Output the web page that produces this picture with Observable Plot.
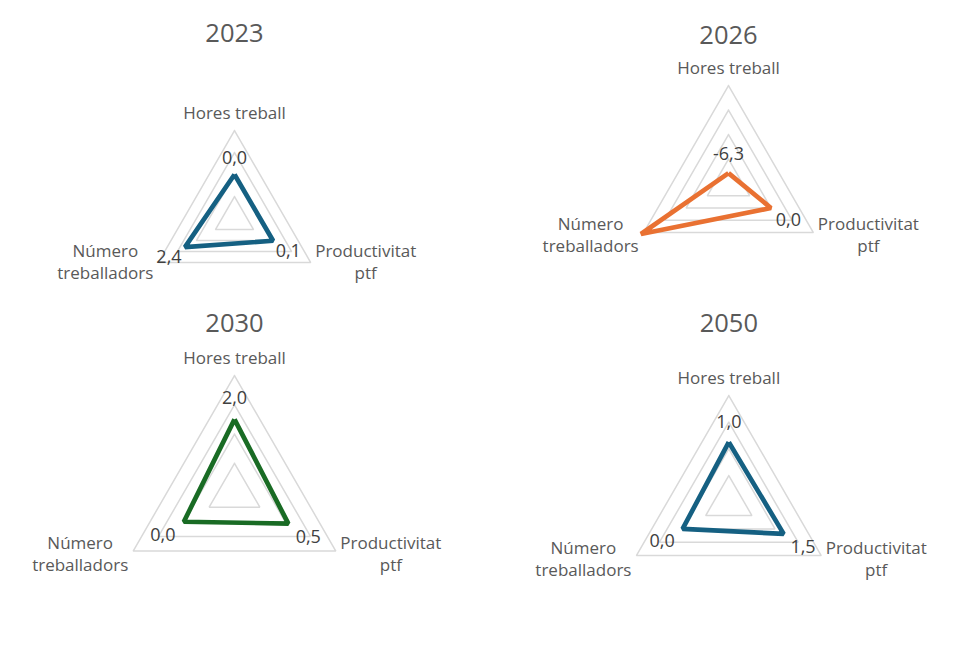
<!DOCTYPE html>
<html>
<head>
<meta charset="utf-8">
<script src="https://cdn.jsdelivr.net/npm/d3@7"></script>
<script src="https://cdn.jsdelivr.net/npm/@observablehq/plot@0.6"></script>
<style>
  html, body { margin: 0; padding: 0; background: #ffffff; }
  #page { position: relative; width: 963px; height: 659px; overflow: hidden; font-family: "Open Sans", sans-serif; }
  .panel { position: absolute; }
  .panel svg { overflow: visible; }
</style>
</head>
<body>
<div id="page"></div>
<script>
// ---- data ----
const years = ["2023", "2026", "2030", "2050"];
const axisLabels = ["Hores treball", "Productivitat\nptf", "Número\ntreballadors"];
const horesTreball = [0.0, -6.3, 2.0, 1.0];
const productivitat = [0.1, 0.0, 0.5, 1.5];
const numeroTreballadors = [2.4, 8.5, 0.0, 0.0];
const radialMin = -8;
const radialMax = 8;
const radialTicks = [-4, 0, 4, 8];
const seriesColors = ["#156082", "#E97132", "#196B24", "#156082"];

// ---- layout (panel boxes, radar centre and radius in px) ----
const layout = [
  {left: 0,   top: 0,   w: 481, h: 300, cx: 234,   cy: 218,   R: 88,    titleY: 33, sideDy: -2, lab: 0.8},
  {left: 481, top: 0,   w: 482, h: 300, cx: 247,   cy: 183,   R: 98,    titleY: 35, sideDy: 1,  lab: 0.92},
  {left: 0,   top: 300, w: 481, h: 359, cx: 234,   cy: 192,   R: 117,   titleY: 23, sideDy: 2,  lab: 1.05},
  {left: 481, top: 300, w: 482, h: 359, cx: 247.3, cy: 201.7, R: 106.7, titleY: 23, sideDy: 2,  lab: 1.02}
];

const locale = d3.formatLocale({decimal: ",", thousands: ".", grouping: [3], currency: ["", "€"], minus: "-"});
const fmt = locale.format(".1f");

const angle = (k) => k * 2 * Math.PI / 3;
const norm = (v) => (v - radialMin) / (radialMax - radialMin);
const px = (k, v) => norm(v) * Math.sin(angle(k));
const py = (k, v) => norm(v) * Math.cos(angle(k));

// label offsets per axis (top, lower right, lower left)
const axisLabelDx = [0, 55, -53];
const valueLabelOffsets = [{dx: 0, dy: -20}, {dx: 19, dy: 13}, {dx: -20, dy: 12.5}];

const page = document.getElementById("page");

years.forEach((year, i) => {
  const L = layout[i];
  const values = [horesTreball[i], productivitat[i], numeroTreballadors[i]];

  const grid = [];
  radialTicks.forEach((t) => {
    [0, 1, 2, 0].forEach((k) => grid.push({tick: t, x: px(k, t), y: py(k, t)}));
  });

  const series = [0, 1, 2, 0].map((k) => ({axis: axisLabels[k], value: values[k], x: px(k, values[k]), y: py(k, values[k])}));

  const marks = [
    Plot.line(grid, {x: "x", y: "y", z: "tick", stroke: "#d9d9d9", strokeWidth: 1.5, strokeLinejoin: "miter"}),
    Plot.line(series, {x: "x", y: "y", stroke: seriesColors[i], strokeWidth: 4.7, strokeLinejoin: "miter", strokeLinecap: "butt"})
  ];

  axisLabels.forEach((lab, k) => {
    marks.push(Plot.text([{x: px(k, radialMax), y: py(k, radialMax), t: lab}], {
      x: "x", y: "y", text: "t",
      dx: axisLabelDx[k], dy: k === 0 ? -19 : L.sideDy,
      fontSize: 17, fill: "#595959", lineHeight: 1.3, textAnchor: "middle"
    }));
    const v = values[k];
    if (v <= radialMax) {
      marks.push(Plot.text([{x: px(k, v), y: py(k, v), t: fmt(v)}], {
        x: "x", y: "y", text: "t",
        dx: valueLabelOffsets[k].dx * L.lab, dy: valueLabelOffsets[k].dy * L.lab,
        fontSize: 18, fill: "#404040", textAnchor: "middle"
      }));
    }
  });

  marks.push(Plot.text([year], {
    x: () => 0, frameAnchor: "top", dy: L.titleY, text: (d) => d,
    fontSize: 25.5, fill: "#595959", textAnchor: "middle", lineAnchor: "middle"
  }));

  const chart = Plot.plot({
    width: L.w,
    height: L.h,
    margin: 0,
    x: {domain: [-L.cx / L.R, (L.w - L.cx) / L.R], axis: null},
    y: {domain: [-(L.h - L.cy) / L.R, L.cy / L.R], axis: null},
    style: {fontFamily: "'Open Sans', sans-serif", background: "transparent", overflow: "visible"},
    marks
  });

  const div = document.createElement("div");
  div.className = "panel";
  div.style.left = L.left + "px";
  div.style.top = L.top + "px";
  div.appendChild(chart);
  page.appendChild(div);
});
</script>
</body>
</html>
